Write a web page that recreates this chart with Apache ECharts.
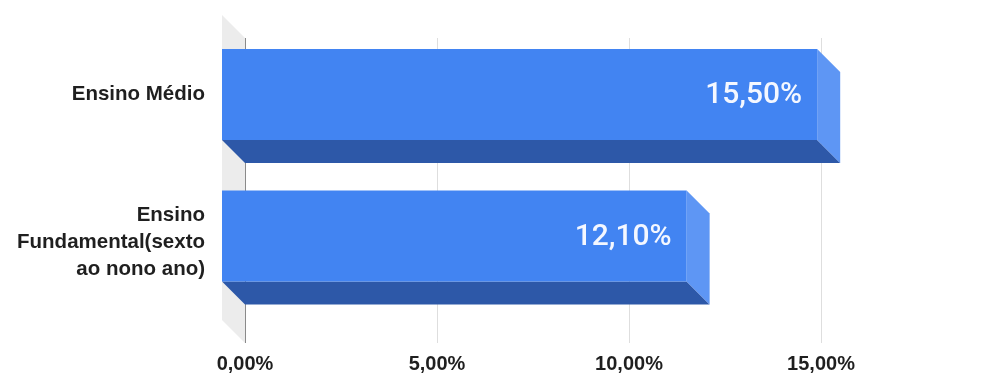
<!DOCTYPE html>
<html>
<head>
<meta charset="utf-8">
<script src="https://cdn.jsdelivr.net/npm/echarts@6/dist/echarts.min.js"></script>
<style>
html,body{margin:0;padding:0;background:#fff;}
#chart{width:1004px;height:375px;}
</style>
</head>
<body>
<div id="chart"></div>
<script>
const categories = ['Ensino Médio', 'Ensino\nFundamental(sexto\nao nono ano)'];
const values = [15.5, 12.1];
const axisMin = 0;
const axisMax = 15;
const axisInterval = 5;

function fmt(v) { return v.toFixed(2).replace('.', ',') + '%'; }

const DEPTH = 23;
const chart = echarts.init(document.getElementById('chart'));

chart.setOption({
  animation: false,
  backgroundColor: '#ffffff',
  grid: [
    { left: 245, right: 183, top: 38, bottom: 32 },
    { left: 245, right: 183, top: 23.75, bottom: 68.25 }
  ],
  xAxis: [
    {
      gridIndex: 0, type: 'value', min: axisMin, max: axisMax, interval: axisInterval,
      axisLine: { show: false }, axisTick: { show: false },
      splitLine: { show: true, lineStyle: { color: ['#8a8a8a', '#dedede', '#dedede', '#dedede'], width: 1 } },
      axisLabel: {
        margin: 11, formatter: fmt, color: '#1f1f1f',
        fontFamily: '"Liberation Sans", Arial, sans-serif', fontWeight: 'bold', fontSize: 20
      }
    },
    {
      gridIndex: 1, type: 'value', min: axisMin, max: axisMax, interval: axisInterval, show: false
    }
  ],
  yAxis: [
    { gridIndex: 0, type: 'value', min: 0, max: 1, show: false },
    {
      gridIndex: 1, type: 'category', inverse: true, data: categories,
      axisLine: { show: false }, axisTick: { show: false }, splitLine: { show: false },
      axisLabel: {
        margin: 40, color: '#1f1f1f', align: 'right', lineHeight: 27,
        fontFamily: '"Liberation Sans", Arial, sans-serif', fontWeight: 'bold', fontSize: 20.5,
        formatter: function (val) {
          return val.indexOf('\n') >= 0 ? '{sp| }\n' + val : val;
        },
        rich: { sp: { fontSize: 2, lineHeight: 12 } }
      }
    }
  ],
  series: [
    {
      type: 'custom', xAxisIndex: 0, yAxisIndex: 0, silent: true, z: 1,
      data: [[0, 0]],
      renderItem: function (params, api) {
        const cs = params.coordSys;
        const bx = api.coord([0, 0])[0];
        const top = cs.y, bot = cs.y + cs.height;
        return {
          type: 'polygon',
          shape: { points: [[bx - DEPTH, top - DEPTH], [bx, top], [bx, bot], [bx - DEPTH, bot - DEPTH]] },
          style: { fill: '#ececec' },
          z2: -1
        };
      }
    },
    {
      type: 'custom', xAxisIndex: 1, yAxisIndex: 1, silent: true, clip: false, z: 5,
      encode: { x: 0, y: 1 },
      data: values.map((v, i) => [v, i]),
      renderItem: function (params, api) {
        const v = api.value(0), i = api.value(1);
        const p0 = api.coord([0, i]);
        const p1 = api.coord([v, i]);
        const band = api.size([0, 1])[1];
        const h = band * 0.643;
        const fx0 = p0[0] - DEPTH, fx1 = p1[0] - DEPTH;
        const fy0 = p0[1] - h / 2, fy1 = p0[1] + h / 2;
        return {
          type: 'group',
          children: [
            {
              type: 'polygon',
              shape: { points: [[fx0, fy1], [fx1, fy1], [fx1 + DEPTH, fy1 + DEPTH], [fx0 + DEPTH, fy1 + DEPTH]] },
              style: { fill: '#2d58a8' }
            },
            {
              type: 'polygon',
              shape: { points: [[fx1, fy0], [fx1 + DEPTH, fy0 + DEPTH], [fx1 + DEPTH, fy1 + DEPTH], [fx1, fy1]] },
              style: { fill: '#5e96f4' }
            },
            {
              type: 'rect',
              shape: { x: fx0, y: fy0, width: fx1 - fx0, height: fy1 - fy0 },
              style: { fill: '#4284f2' }
            },
            {
              type: 'text',
              style: {
                text: fmt(v), x: fx1 - 15, y: p0[1] + 1,
                align: 'right', verticalAlign: 'middle',
                fill: '#f4f7ff', fontFamily: 'Roboto', fontWeight: 500, fontSize: 30
              }
            }
          ]
        };
      }
    }
  ]
});
</script>
</body>
</html>
